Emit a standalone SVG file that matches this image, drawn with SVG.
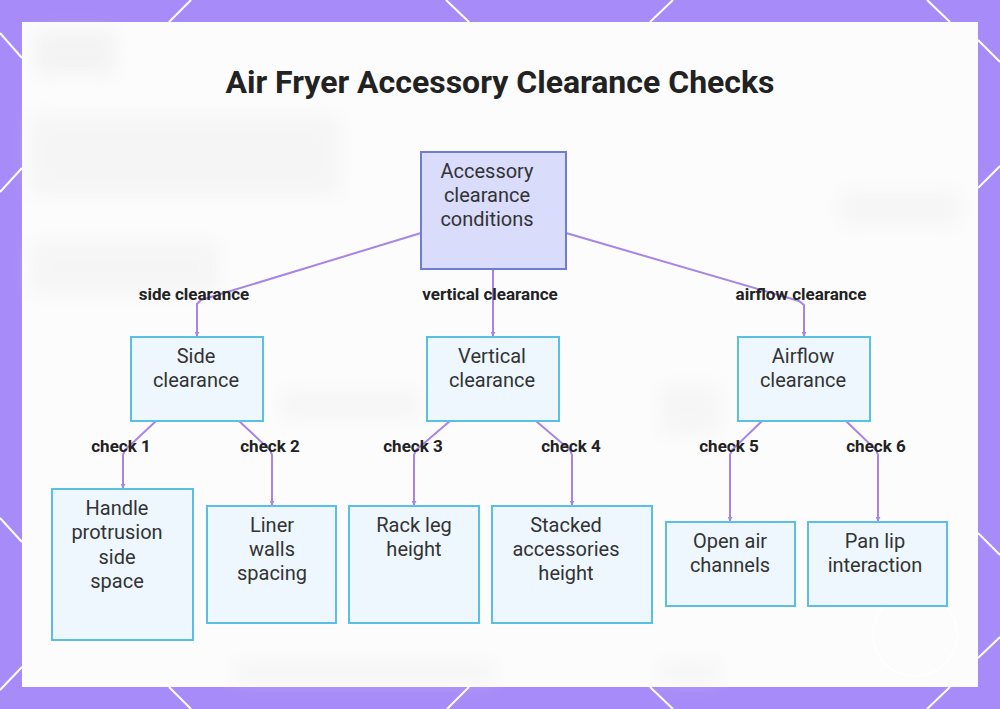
<svg xmlns="http://www.w3.org/2000/svg" width="1000" height="709" viewBox="0 0 1000 709">
<style>
.node rect{stroke-width:2}
.leaf rect{fill:#EEF7FE;stroke:#5BBFE3}
.root rect{fill:#D9DCFB;stroke:#6E7DD3}
.nt{font-family:Roboto,"Liberation Sans",sans-serif;font-size:20px;fill:#333;text-anchor:middle}
.el{font-family:Roboto,"Liberation Sans",sans-serif;font-size:17px;font-weight:bold;fill:#222;text-anchor:middle}
.edges path{fill:none;stroke:#A685E6;stroke-width:2}
.deco line{stroke:#fff;stroke-width:2}
</style>
<defs>
<marker id="ah" viewBox="0 0 6 6" refX="5" refY="3" markerWidth="2.5" markerHeight="2.5" orient="auto"><path d="M0,0 L6,3 L0,6 z" fill="#A685E6"/></marker>
<filter id="blur" x="-30%" y="-30%" width="160%" height="160%"><feGaussianBlur stdDeviation="9"/></filter>
</defs>
<rect x="0" y="0" width="1000" height="709" fill="#A78BF8"/>
<g class="deco">
<line x1="191" y1="0" x2="169" y2="22"/><line x1="446" y1="0" x2="469" y2="22"/><line x1="673" y1="0" x2="650" y2="22"/><line x1="927" y1="0" x2="950" y2="22"/>
<line x1="169" y1="687" x2="191" y2="709"/><line x1="469" y1="687" x2="447" y2="709"/><line x1="650" y1="687" x2="673" y2="709"/><line x1="950" y1="687" x2="927" y2="709"/>
<line x1="0" y1="33" x2="22" y2="58"/><line x1="0" y1="192" x2="22" y2="168"/><line x1="0" y1="518" x2="22" y2="542"/><line x1="0" y1="690" x2="22" y2="667"/>
<line x1="978" y1="40" x2="1000" y2="62"/><line x1="978" y1="188" x2="1000" y2="166"/><line x1="978" y1="533" x2="1000" y2="555"/><line x1="978" y1="658" x2="1000" y2="637"/>
</g>
<rect x="22" y="22" width="956" height="665" fill="#FCFCFC"/>
<g filter="url(#blur)" opacity="0.3">
<rect x="35" y="30" width="80" height="45" fill="#E0E0E0"/>
<rect x="30" y="115" width="310" height="80" fill="#E6E6E6"/>
<rect x="30" y="240" width="190" height="55" fill="#E8E8E8"/>
<rect x="280" y="390" width="140" height="30" fill="#E8E8E8"/>
<rect x="660" y="385" width="60" height="50" fill="#E8E8E8"/>
<rect x="840" y="190" width="120" height="35" fill="#E8E8E8"/>
<rect x="235" y="662" width="260" height="20" fill="#E6E6E6"/>
<rect x="660" y="662" width="60" height="20" fill="#E6E6E6"/>
</g>
<circle cx="915" cy="634" r="42" fill="none" stroke="#FFFFFF" stroke-width="1.5" opacity="0.9"/>
<text x="500" y="93" font-family="Roboto,'Liberation Sans',sans-serif" font-size="32" font-weight="bold" fill="#222" text-anchor="middle">Air Fryer Accessory Clearance Checks</text>
<g class="edges">
<path d="M421,233 L201,300 L197,304 L197,336" marker-end="url(#ah)"/>
<path d="M493,269 L493,336" marker-end="url(#ah)"/>
<path d="M566,233 L799,301 L804,305 L804,336" marker-end="url(#ah)"/>
<path d="M156,421 L125,450 L123,455 L123,488" marker-end="url(#ah)"/>
<path d="M239,421 L270,450 L272,455 L272,505" marker-end="url(#ah)"/>
<path d="M450,421 L416,450 L414,455 L414,505" marker-end="url(#ah)"/>
<path d="M536,421 L570,450 L572,455 L572,505" marker-end="url(#ah)"/>
<path d="M762,421 L732,450 L730,455 L730,521" marker-end="url(#ah)"/>
<path d="M846,421 L876,450 L878,455 L878,521" marker-end="url(#ah)"/>
</g>
<g class="labels">
<text class="el" x="194" y="300">side clearance</text>
<text class="el" x="490" y="300">vertical clearance</text>
<text class="el" x="801" y="300">airflow clearance</text>
<text class="el" x="121" y="452">check 1</text>
<text class="el" x="270" y="452">check 2</text>
<text class="el" x="413" y="452">check 3</text>
<text class="el" x="571" y="452">check 4</text>
<text class="el" x="729" y="452">check 5</text>
<text class="el" x="876" y="452">check 6</text>
</g>
<g id="root" class="node root"><rect x="421" y="152" width="145" height="117"/>
<text class="nt" x="487" y="178">Accessory</text><text class="nt" x="487" y="202">clearance</text><text class="nt" x="487" y="226">conditions</text></g>
<g id="side" class="node leaf"><rect x="131" y="337" width="132" height="84"/>
<text class="nt" x="196" y="363">Side</text><text class="nt" x="196" y="387">clearance</text></g>
<g id="vertical" class="node leaf"><rect x="427" y="337" width="132" height="84"/>
<text class="nt" x="492" y="363">Vertical</text><text class="nt" x="492" y="387">clearance</text></g>
<g id="airflow" class="node leaf"><rect x="738" y="337" width="132" height="84"/>
<text class="nt" x="803" y="363">Airflow</text><text class="nt" x="803" y="387">clearance</text></g>
<g id="handle" class="node leaf"><rect x="52" y="489" width="141" height="151"/>
<text class="nt" x="117" y="515">Handle</text><text class="nt" x="117" y="539">protrusion</text><text class="nt" x="117" y="564">side</text><text class="nt" x="117" y="588">space</text></g>
<g id="liner" class="node leaf"><rect x="207" y="506" width="129" height="117"/>
<text class="nt" x="272" y="532">Liner</text><text class="nt" x="272" y="556">walls</text><text class="nt" x="272" y="580">spacing</text></g>
<g id="rack" class="node leaf"><rect x="349" y="506" width="130" height="117"/>
<text class="nt" x="414" y="532">Rack leg</text><text class="nt" x="414" y="556">height</text></g>
<g id="stacked" class="node leaf"><rect x="492" y="506" width="160" height="117"/>
<text class="nt" x="566" y="532">Stacked</text><text class="nt" x="566" y="556">accessories</text><text class="nt" x="566" y="580">height</text></g>
<g id="openair" class="node leaf"><rect x="666" y="522" width="129" height="84"/>
<text class="nt" x="730" y="548">Open air</text><text class="nt" x="730" y="572">channels</text></g>
<g id="panlip" class="node leaf"><rect x="808" y="522" width="139" height="84"/>
<text class="nt" x="875" y="548">Pan lip</text><text class="nt" x="875" y="572">interaction</text></g>
</svg>
